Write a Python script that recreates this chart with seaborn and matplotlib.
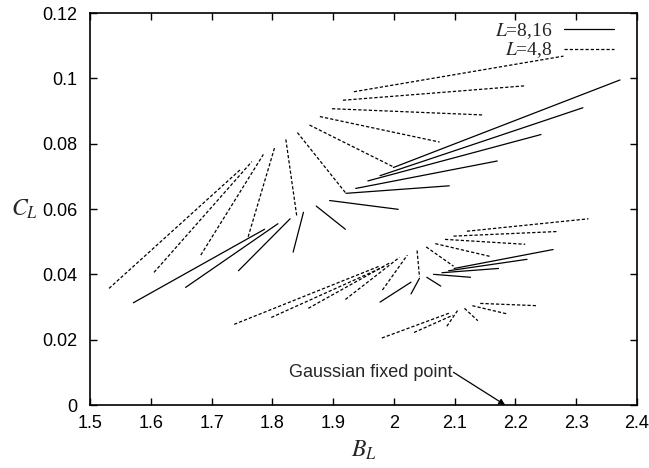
import numpy as np
import pandas as pd
import matplotlib
matplotlib.use("Agg")
import matplotlib.pyplot as plt
import seaborn as sns
from matplotlib.lines import Line2D

# segment end points (B_L, C_L)
# L=8,16 (solid)
x0_big = [1.571, 1.657, 1.744, 1.834, 1.872, 1.894, 1.921, 1.937, 1.957, 1.977, 1.999,
          1.977, 2.028, 2.054, 2.065, 2.079, 2.090, 2.099]
y0_big = [0.0313, 0.0360, 0.0411, 0.0468, 0.0609, 0.0626, 0.0648, 0.0663, 0.0686, 0.0702, 0.0727,
          0.0315, 0.0340, 0.0391, 0.0400, 0.0405, 0.0411, 0.0418]
x1_big = [1.787, 1.809, 1.829, 1.851, 1.920, 2.007, 2.091, 2.170, 2.242, 2.311, 2.372,
          2.028, 2.042, 2.077, 2.126, 2.172, 2.219, 2.262]
y1_big = [0.0538, 0.0555, 0.0570, 0.0590, 0.0538, 0.0599, 0.0671, 0.0747, 0.0828, 0.0910, 0.0995,
          0.0376, 0.0388, 0.0364, 0.0391, 0.0418, 0.0446, 0.0476]

# L=4,8 (dashed)
x0_small = [1.531, 1.605, 1.682, 1.760, 1.822, 1.841, 1.861, 1.878, 1.898, 1.916, 1.934,
            1.737, 1.798, 1.859, 1.920, 1.981, 2.038, 2.053, 2.068, 2.084, 2.098, 2.120,
            1.980, 2.033, 2.087, 2.116, 2.129, 2.142]
y0_small = [0.0357, 0.0406, 0.0459, 0.0515, 0.0813, 0.0834, 0.0857, 0.0883, 0.0907, 0.0933, 0.0959,
            0.0247, 0.0268, 0.0296, 0.0323, 0.0352, 0.0473, 0.0484, 0.0494, 0.0507, 0.0517, 0.0532,
            0.0205, 0.0222, 0.0241, 0.0296, 0.0304, 0.0311]
x1_small = [1.748, 1.766, 1.785, 1.804, 1.840, 1.921, 1.999, 2.075, 2.146, 2.215, 2.279,
            1.976, 1.983, 1.993, 2.009, 2.022, 2.042, 2.098, 2.158, 2.216, 2.268, 2.320,
            2.092, 2.097, 2.105, 2.138, 2.186, 2.236]
y1_small = [0.0722, 0.0745, 0.0767, 0.0791, 0.0578, 0.0648, 0.0729, 0.0805, 0.0888, 0.0977, 0.1068,
            0.0425, 0.0423, 0.0435, 0.0452, 0.0459, 0.0392, 0.0425, 0.0455, 0.0492, 0.0531, 0.0570,
            0.0282, 0.0275, 0.0290, 0.0258, 0.0279, 0.0304]

# long-form table: one row per segment end
rows = []
for name, xa, ya, xb, yb in [("L=8,16", x0_big, y0_big, x1_big, y1_big),
                             ("L=4,8", x0_small, y0_small, x1_small, y1_small)]:
    for i in range(len(xa)):
        seg = f"{name}_{i}"
        rows.append((seg, name, xa[i], ya[i]))
        rows.append((seg, name, xb[i], yb[i]))
df = pd.DataFrame(rows, columns=["seg", "size", "B", "C"])

sns.set_style("ticks")
plt.rcParams["font.family"] = ["Liberation Sans", "DejaVu Sans"]
plt.rcParams["mathtext.fontset"] = "stix"

fig = plt.figure(figsize=(6.49, 4.68), dpi=100)
ax = fig.add_axes([0.139, 0.1346, 0.8425, 0.8376])

sns.lineplot(data=df, x="B", y="C", units="seg", estimator=None, sort=False,
             style="size", style_order=["L=8,16", "L=4,8"],
             dashes={"L=8,16": "", "L=4,8": (2.6, 1.6)},
             color="black", linewidth=0.9, legend=False, ax=ax)

ax.set_xlim(1.5, 2.4)
ax.set_ylim(0, 0.12)
ax.set_xticks(np.arange(1.5, 2.41, 0.1))
ax.set_yticks(np.arange(0, 0.121, 0.02))
ax.set_xticklabels(["1.5", "1.6", "1.7", "1.8", "1.9", "2", "2.1", "2.2", "2.3", "2.4"])
ax.set_yticklabels(["0", "0.02", "0.04", "0.06", "0.08", "0.1", "0.12"])
ax.tick_params(direction="in", length=5, width=1, top=True, right=True,
               labelsize=13, colors="black")
ax.tick_params(axis="y", pad=9)
ax.tick_params(axis="x", pad=7)
for s in ax.spines.values():
    s.set_linewidth(1.2)
    s.set_color("black")

ax.set_xlabel(r"$B_L$", fontsize=17, labelpad=5)
ax.set_ylabel(r"$C_L$", fontsize=17, rotation=0)
ax.yaxis.set_label_coords(-0.12, 0.47)

handles = [Line2D([], [], color="black", lw=0.9),
           Line2D([], [], color="black", lw=0.9, dashes=(2.6, 1.6))]
ax.legend(handles, [r"$L$=8,16", r"$L$=4,8"], loc="upper right", frameon=False,
          markerfirst=False, handlelength=2.6, handletextpad=0.6, labelspacing=0.0,
          bbox_to_anchor=(0.98, 1.01), borderaxespad=0.2,
          prop={"family": "Liberation Serif", "size": 14})

ax.text(2.097, 0.0098, "Gaussian fixed point", ha="right", va="center", fontsize=13)
ax.annotate("", xy=(2.183, 0.0), xytext=(2.098, 0.0100),
            arrowprops=dict(arrowstyle="-|>", color="black", lw=0.9,
                            shrinkA=0, shrinkB=0, mutation_scale=9))

fig.savefig("out.png", dpi=100)
